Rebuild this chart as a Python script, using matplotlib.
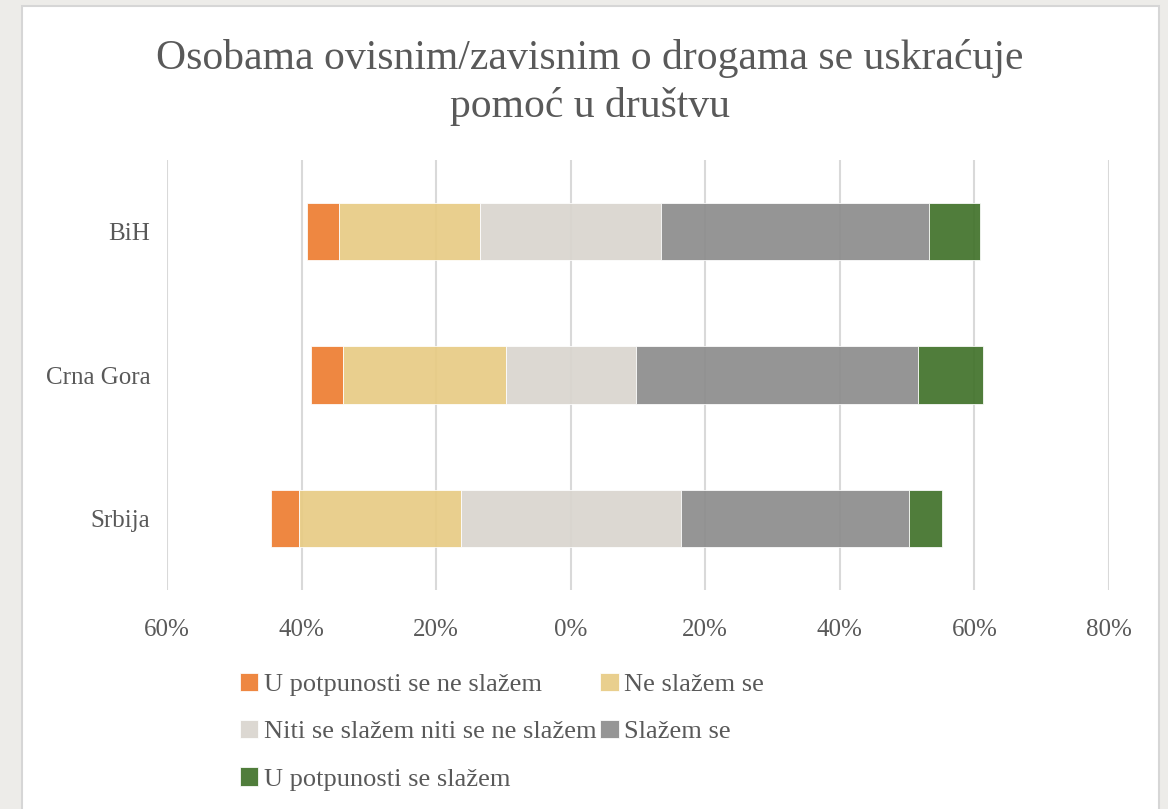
import numpy as np
import matplotlib
matplotlib.use('Agg')
import matplotlib.pyplot as plt
from matplotlib.patches import Rectangle
from matplotlib.ticker import FuncFormatter

plt.rcParams['font.family'] = ['Liberation Serif', 'DejaVu Serif']

# ========== 数据 ==========
countries = ['Srbija', 'Crna Gora', 'BiH']
categories = ['U potpunosti se ne slažem', 'Ne slažem se',
              'Niti se slažem niti se ne slažem', 'Slažem se',
              'U potpunosti se slažem']
strongly_disagree = [4.2, 4.8, 4.7]
disagree = [24.0, 24.2, 21.0]
neutral = [32.7, 19.3, 26.9]
agree = [33.9, 41.9, 39.8]
strongly_agree = [5.0, 9.7, 7.6]
colors = ['#ED7D31', '#E8CB84', '#D9D5CF', '#8C8C8C', '#41722A']
text_color = '#595959'

# ========== 画布 ==========
fig = plt.figure(figsize=(11.68, 8.09), dpi=100, facecolor='#EDECE9')
fig.patches.append(Rectangle((22 / 1168, -0.01), (1159 - 22) / 1168, 1 - 6 / 809 + 0.01,
                             transform=fig.transFigure, facecolor='white',
                             edgecolor='#D6D6D6', linewidth=1.5, zorder=-10))

ax = fig.add_axes([167 / 1168, 1 - 590 / 809, (1109 - 167) / 1168, (590 - 160) / 809])
ax.set_facecolor('none')

y = np.arange(len(countries))
sd = np.array(strongly_disagree)
d = np.array(disagree)
n = np.array(neutral)
a = np.array(agree)
sa = np.array(strongly_agree)

# 中性类别以 0 为中心
left_start = -(sd + d + n / 2)
series = [sd, d, n, a, sa]
lefts = [left_start, left_start + sd, left_start + sd + d,
         left_start + sd + d + n, left_start + sd + d + n + a]

handles = []
for vals, lf, col, lab in zip(series, lefts, colors, categories):
    h = ax.barh(y, vals, left=lf, height=0.4, color=col, alpha=0.92,
                edgecolor='white', linewidth=0.6, label=lab, zorder=2)
    handles.append(h)

ax.set_xlim(-60, 80)
ax.set_ylim(-0.5, 2.5)
ax.set_xticks(np.arange(-60, 81, 20))
ax.xaxis.set_major_formatter(FuncFormatter(lambda v, p: f'{abs(v):.0f}%'))
ax.set_yticks(y)
ax.set_yticklabels(countries)
ax.tick_params(axis='both', length=0, labelsize=18, colors=text_color)
ax.tick_params(axis='x', pad=21)
ax.tick_params(axis='y', pad=12)
ax.grid(axis='x', color='#D9D9D9', linewidth=1.5, zorder=1)
ax.set_axisbelow(True)
for s in ax.spines.values():
    s.set_visible(False)

fig.text(590 / 1168, 1 - 58 / 809, 'Osobama ovisnim/zavisnim o drogama se uskraćuje',
         ha='center', va='center', fontsize=30, color=text_color)
fig.text(590 / 1168, 1 - 106 / 809, 'pomoć u društvu',
         ha='center', va='center', fontsize=30, color=text_color)

# 图例：按行排列（两列）
order = [0, 2, 4, 1, 3]
leg = fig.legend([handles[i] for i in order], [categories[i] for i in order],
                 ncol=2, loc='upper left', bbox_to_anchor=(216 / 1168, 1 - 649 / 809),
                 frameon=False, fontsize=19, handlelength=0.7, handleheight=0.7,
                 handletextpad=0.2, columnspacing=0.15, labelspacing=0.9,
                 labelcolor=text_color)

plt.savefig('out.png', dpi=100, facecolor=fig.get_facecolor())
